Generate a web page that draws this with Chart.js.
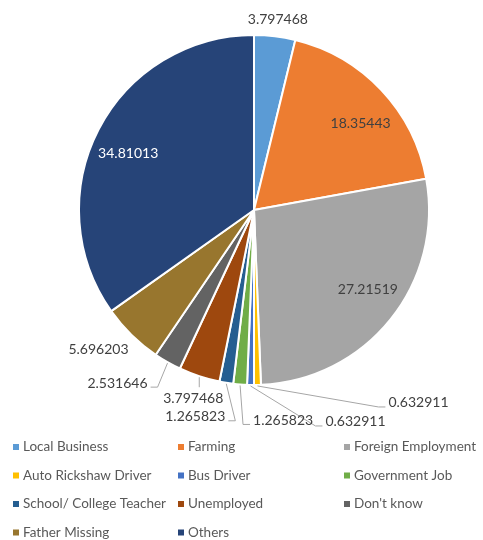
<!DOCTYPE html>
<html>
<head>
<meta charset="utf-8">
<script src="https://cdn.jsdelivr.net/npm/chart.js@4"></script>
<style>
    body { margin: 0; background: #fff; }
    #wrap { width: 483px; height: 540px; position: relative; }
</style>
</head>
<body>
<div id="wrap"><canvas id="occupationChart"></canvas></div>
<script>
const categories = ['Local Business', 'Farming', 'Foreign Employment', 'Auto Rickshaw Driver', 'Bus Driver',
    'Government Job', 'School/ College Teacher', 'Unemployed', "Don't know", 'Father Missing', 'Others'];
const shares = [3.797468, 18.35443, 27.21519, 0.632911, 0.632911, 1.265823, 1.265823, 3.797468, 2.531646, 5.696203, 34.81013];
const colours = ['#5B9BD5', '#ED7D31', '#A5A5A5', '#FFC000', '#4472C4', '#70AD47', '#255E91', '#9E480E', '#636363', '#98762E', '#264478'];

// where each value label sits: inside at a fraction of the radius (plus a nudge),
// or outside, offset from the slice edge
const labelPlacement = [
    { out: [3, -17] },
    { inside: 0.79, nudge: [6, 8] },
    { inside: 0.79, nudge: [6, -7] },
    { out: [161, 18], leader: true },
    { out: [105, 37], leader: true },
    { out: [43, 36], leader: true },
    { out: [-31, 34], leader: true },
    { out: [-6, 22], leader: true },
    { out: [-50, 21], leader: true },
    { out: [-33, 15] },
    { inside: 0.79, nudge: [-3, 7], light: true }
];

const labelFont = '14px Lato';
const legendFont = '13.5px Lato';

const sliceLabels = {
    id: 'sliceLabels',
    afterDatasetsDraw(chart) {
        const ctx = chart.ctx;
        const arcs = chart.getDatasetMeta(0).data;
        ctx.save();
        ctx.font = labelFont;
        ctx.textAlign = 'center';
        ctx.textBaseline = 'middle';
        arcs.forEach((arc, i) => {
            const { x, y, startAngle, endAngle, outerRadius } = arc.getProps(['x', 'y', 'startAngle', 'endAngle', 'outerRadius'], true);
            const mid = (startAngle + endAngle) / 2;
            const place = labelPlacement[i];
            const text = String(shares[i]);
            if (place.inside) {
                const r = outerRadius * place.inside;
                ctx.fillStyle = place.light ? '#ffffff' : '#404040';
                ctx.fillText(text, x + Math.cos(mid) * r + place.nudge[0], y + Math.sin(mid) * r + place.nudge[1]);
                return;
            }
            const px = x + Math.cos(mid) * outerRadius;
            const py = y + Math.sin(mid) * outerRadius;
            const lx = px + place.out[0];
            const ly = py + place.out[1];
            ctx.fillStyle = '#404040';
            ctx.fillText(text, lx, ly);
            if (place.leader) {
                const half = ctx.measureText(text).width / 2;
                ctx.strokeStyle = '#a6a6a6';
                ctx.lineWidth = 1;
                ctx.beginPath();
                ctx.moveTo(px, py + 1);
                if (px > lx - half && px < lx + half) {
                    ctx.lineTo(px, ly - 11);
                } else {
                    const dir = lx > px ? 1 : -1;
                    const endX = lx - dir * (half + 3);
                    ctx.lineTo(endX - dir * 7, ly + 4);
                    ctx.lineTo(endX, ly + 4);
                }
                ctx.stroke();
            }
        });
        ctx.restore();
    }
};

const gridLegend = {
    id: 'gridLegend',
    afterDraw(chart) {
        const ctx = chart.ctx;
        const colX = [13, 178, 344];
        ctx.save();
        ctx.font = legendFont;
        ctx.textBaseline = 'middle';
        ctx.textAlign = 'left';
        categories.forEach((name, i) => {
            const cx = colX[i % 3];
            const cy = 447 + Math.floor(i / 3) * 28.5;
            ctx.fillStyle = colours[i];
            ctx.fillRect(cx, cy - 3, 6, 6);
            ctx.fillStyle = '#595959';
            ctx.fillText(name, cx + 10, cy);
        });
        ctx.restore();
    }
};

new Chart(document.getElementById('occupationChart').getContext('2d'), {
    type: 'pie',
    data: {
        labels: categories,
        datasets: [{
            data: shares,
            backgroundColor: colours,
            borderColor: '#ffffff',
            borderWidth: 2,
            hoverOffset: 0,
            offset: 0
        }]
    },
    options: {
        responsive: true,
        maintainAspectRatio: false,
        animation: false,
        layout: {
            padding: { left: 78, right: 53, top: 34, bottom: 154 }
        },
        plugins: {
            legend: { display: false },
            tooltip: { enabled: false }
        }
    },
    plugins: [sliceLabels, gridLegend]
});
</script>
</body>
</html>
